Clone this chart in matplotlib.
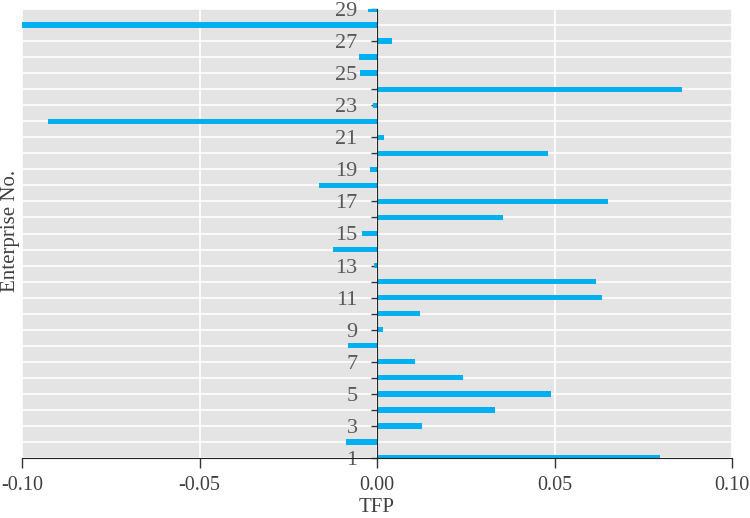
import numpy as np
import matplotlib.pyplot as plt

plt.rcParams['font.family'] = ['Liberation Serif', 'DejaVu Serif']

# enterprise numbers and their TFP values
enterprises = np.arange(1, 30)
tfp = [0.0798, -0.0088, 0.0128, 0.0331, 0.0489, 0.0243, 0.0106, -0.0081,
       0.0016, 0.0121, 0.0635, 0.0618, -0.0008, -0.0123, -0.0042, 0.0355,
       0.0650, -0.0163, -0.0021, 0.0481, 0.0021, -0.0926, -0.0012, 0.0860,
       -0.0048, -0.0051, 0.0041, -0.1005, -0.0025]
xticks = [-0.10, -0.05, 0.00, 0.05, 0.10]
ytick_labels = [str(n) if n % 2 == 1 else '' for n in enterprises]

fig = plt.figure(figsize=(7.5, 5.18), dpi=100)
ax = fig.add_axes([22 / 750, 1 - 458 / 518, 710 / 750, 449 / 518])
ax.set_facecolor('#e4e4e4')

ax.barh(enterprises, tfp, height=0.33, color='#00b0f0', zorder=3)

ax.set_xlim(-0.10, 0.10)
ax.set_ylim(1, 29)
ax.set_xticks(xticks)
ax.set_xticklabels(['%.2f' % v for v in xticks])
ax.set_yticks(enterprises)
ax.set_yticklabels(ytick_labels)

ax.grid(True, color='white', linewidth=1.2, zorder=1)
ax.set_axisbelow(True)

for s in ['top', 'right']:
    ax.spines[s].set_visible(False)
ax.spines['left'].set_position(('data', 0))
ax.spines['left'].set_color('#222222')
ax.spines['left'].set_zorder(4)
ax.spines['bottom'].set_color('#222222')
ax.spines['bottom'].set_zorder(4)

ax.tick_params(axis='x', direction='out', length=7, width=1, color='#333333',
               labelsize=14.5, labelcolor='#404040', pad=6)
ax.tick_params(axis='y', direction='out', length=4, width=1, color='#333333',
               labelsize=16, labelcolor='#595959', pad=10)

fig.text(377 / 750, 1 - 508 / 518, 'TFP', ha='center', va='center',
         fontsize=15, color='#404040')
fig.text(11 / 750, 1 - 231 / 518, 'Enterprise No.', ha='center', va='center',
         rotation=90, fontsize=15, color='#404040')

fig.savefig('out.png', dpi=100)
